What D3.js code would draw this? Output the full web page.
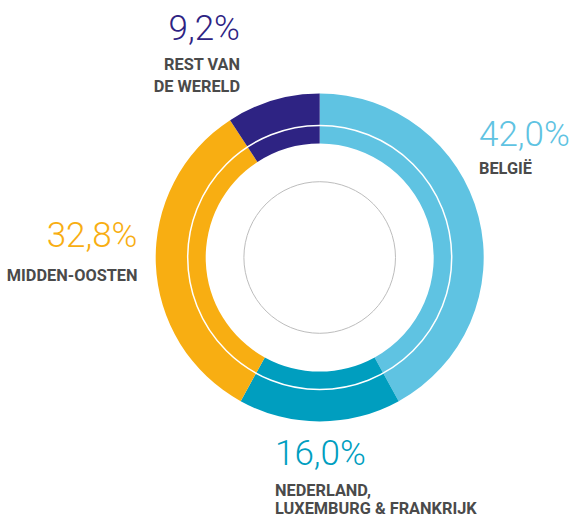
<!DOCTYPE html>
<html>
<head>
<meta charset="utf-8">
<script src="https://cdn.jsdelivr.net/npm/d3@7"></script>
<style>
  html, body { margin: 0; padding: 0; background: #fff; }
  svg { display: block; }
  .pct { font-family: Roboto, sans-serif; font-weight: 300; font-size: 35px; }
  .lbl { font-family: Roboto, sans-serif; font-weight: 700; font-size: 17px; fill: #4a4a4a; }
</style>
</head>
<body>
<svg id="vis" width="571" height="517"></svg>
<script>
// Data
const categorieen = ["België", "Nederland, Luxemburg & Frankrijk", "Midden-Oosten", "Rest van de wereld"];
const waarden = [42.0, 16.0, 32.8, 9.2];
const kleuren = ["#5fc3e2", "#009ebf", "#f8ae12", "#2e2383"];
const pctTeksten = ["42,0%", "16,0%", "32,8%", "9,2%"];
const labelRegels = [["BELGIË"], ["NEDERLAND,", "LUXEMBURG & FRANKRIJK"], ["MIDDEN-OOSTEN"], ["REST VAN", "DE WERELD"]];

// Layout of the labels (x, baseline of the percentage, anchor, baseline of first label line, line spacing)
const labelPos = [
  { x: 479, y: 145.5, anchor: "start", ly: 174, dy: 20 },
  { x: 275, y: 465, anchor: "start", ly: 496, dy: 18 },
  { x: 137.5, y: 246.5, anchor: "end", ly: 280.5, dy: 20 },
  { x: 240, y: 40, anchor: "end", ly: 69.5, dy: 22.5 }
];
const smal = 0.96; // condensed look of the labels

const SVG = d3.select("#vis");
const cx = 319.7, cy = 257.5;
const g = SVG.append("g").attr("transform", `translate(${cx},${cy})`);

const pie = d3.pie().sort(null).value(d => d.v);
const arc = d3.arc().innerRadius(114).outerRadius(164);

const data = categorieen.map((c, i) => ({ c, v: waarden[i], i }));

g.selectAll(".slice")
  .data(pie(data))
  .join("path")
  .attr("class", "slice")
  .attr("d", arc)
  .attr("fill", d => kleuren[d.data.i]);

// thin white ring through the donut
g.append("circle")
  .attr("r", 132)
  .attr("fill", "none")
  .attr("stroke", "#fff")
  .attr("stroke-width", 1.5);

// grey circle in the middle
g.append("circle")
  .attr("r", 75.8)
  .attr("fill", "none")
  .attr("stroke", "#bdbdbd")
  .attr("stroke-width", 1);

// labels
const labels = SVG.selectAll(".label")
  .data(data)
  .join("g")
  .attr("class", "label");

labels.append("text")
  .attr("class", "pct")
  .attr("text-anchor", d => labelPos[d.i].anchor)
  .attr("x", d => labelPos[d.i].x)
  .attr("y", d => labelPos[d.i].y)
  .attr("fill", d => kleuren[d.i])
  .text(d => pctTeksten[d.i]);

labels.each(function(d) {
  const p = labelPos[d.i];
  d3.select(this).selectAll(".lbl")
    .data(labelRegels[d.i])
    .join("text")
    .attr("class", "lbl")
    .attr("text-anchor", p.anchor)
    .attr("transform", (t, j) => `translate(${p.x},${p.ly + j * p.dy}) scale(${smal},1)`)
    .text(t => t);
});
</script>
</body>
</html>
